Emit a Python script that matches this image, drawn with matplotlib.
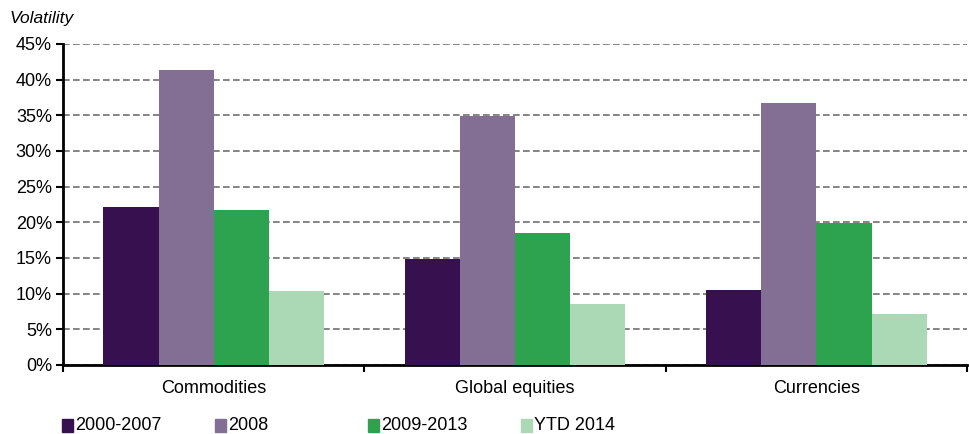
import matplotlib.pyplot as plt
import numpy as np
from matplotlib.patches import Rectangle
from matplotlib.ticker import FuncFormatter

plt.rcParams['font.family'] = ['Liberation Sans', 'DejaVu Sans']

# data
categories = ['Commodities', 'Global equities', 'Currencies']
series = ['2000-2007', '2008', '2009-2013', 'YTD 2014']
vol_2000_2007 = [22.1, 14.9, 10.5]
vol_2008 = [41.4, 34.9, 36.7]
vol_2009_2013 = [21.7, 18.5, 19.9]
vol_ytd_2014 = [10.3, 8.5, 7.1]
values = [vol_2000_2007, vol_2008, vol_2009_2013, vol_ytd_2014]
colors = ['#37104f', '#846f94', '#2ea34f', '#acd9b5']

fig = plt.figure(figsize=(9.7, 4.34), dpi=100)
ax = fig.add_axes([0.065, 0.159, 0.932, 0.74])

x = np.arange(len(categories))
w = 0.183
for i, (vals, c) in enumerate(zip(values, colors)):
    ax.bar(x + (i - 1.5) * w, vals, width=w, color=c, zorder=3)

ax.set_xlim(-0.5, 2.5)
ax.set_ylim(0, 45)
ax.set_yticks(np.arange(0, 46, 5))
ax.yaxis.set_major_formatter(FuncFormatter(lambda v, p: '%d%%' % v))
ax.yaxis.grid(True, linestyle=(0, (4, 2)), color='#6f6f6f', linewidth=1.2, zorder=0)

# category ticks at group boundaries
ax.set_xticks([-0.5, 0.5, 1.5, 2.5])
ax.set_xticklabels([])
ax.set_xticks(x, minor=True)
ax.set_xticklabels(categories, minor=True, fontsize=13)
ax.tick_params(axis='x', which='minor', length=0, pad=11)
ax.tick_params(axis='x', which='major', direction='out', length=5, width=1.5, color='black')
ax.tick_params(axis='y', direction='out', length=5, width=1.5, labelsize=13, pad=3)

for s in ['top', 'right']:
    ax.spines[s].set_visible(False)
ax.spines['left'].set_linewidth(2)
ax.spines['bottom'].set_linewidth(2)

fig.text(0.01, 0.958, 'Volatility', fontsize=12.5, style='italic', va='center')

# legend drawn in Excel style with equal spacing
for i, (name, c) in enumerate(zip(series, colors)):
    x0 = 62 + i * 153
    fig.patches.append(Rectangle((x0 / 970, 1 - 432 / 434), 11 / 970, 13 / 434,
                                 transform=fig.transFigure, color=c))
    fig.text((x0 + 13) / 970, 1 - 425 / 434, name, fontsize=13, va='center')

fig.savefig('out.png', dpi=100)
